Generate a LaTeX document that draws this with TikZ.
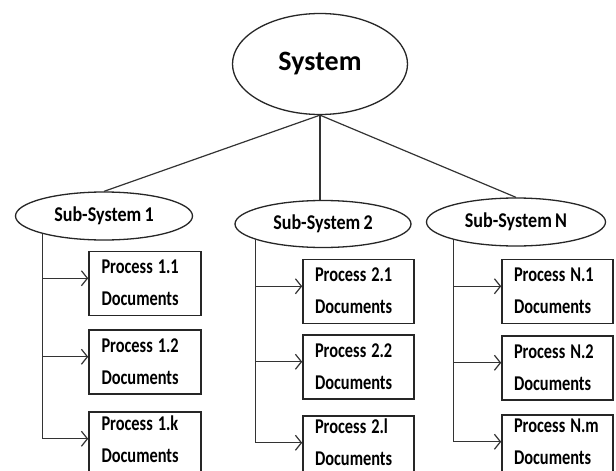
\documentclass[tikz,border=0pt]{standalone}
\usepackage{fontspec}
\setmainfont{Carlito}
\newfontfamily\sysfont{Carlito}
\newfontfamily\subfont{Carlito}[FakeStretch=0.86, WordSpace=0.8]
\newfontfamily\boxfont{Carlito}[FakeStretch=0.78, WordSpace=0.45]
\usetikzlibrary{shapes.geometric,arrows.meta,calc}
\newcommand\proctext[2][0pt]{\raisebox{#1}[\height][\depth]{\begin{tabular}{@{}l@{}}Process\kern-2pt\ #2\\Documents\end{tabular}}}
\tikzset{
  sysnode/.style={ellipse, draw=black!85, line width=1.3pt, inner sep=0pt,
    minimum width=175pt, minimum height=101pt,
    font=\sysfont\bfseries\fontsize{28}{30}\selectfont},
  subnode/.style={ellipse, draw=black!85, line width=1.3pt, inner sep=0pt,
    minimum width=177pt, minimum height=48pt,
    font=\subfont\bfseries\fontsize{21}{24}\selectfont},
  procbox/.style={rectangle, draw=black!85, line width=1.6pt, inner xsep=12pt, inner ysep=0pt,
    text width=87pt, minimum height=59pt, align=left,
    font=\boxfont\bfseries\fontsize{21}{32}\selectfont},
  link/.style={draw=black!80, line width=1.2pt},
  feed/.style={draw=black!80, line width=1.4pt, -{Straight Barb[length=6pt,width=15pt,line width=1.2pt]}}
}
\begin{document}
\begin{tikzpicture}[x=1pt,y=-1pt]
\useasboundingbox (0,0) rectangle (616,471);
\clip (0,0) rectangle (616,471);
\fill[white] (0,0) rectangle (616,471);

\node[sysnode] (sys) at (320,64) {System};
\node[subnode] (ss1) at (104,216) {Sub-System 1};
\node[subnode, minimum width=176pt, minimum height=47pt] (ss2) at (323,224) {Sub-System 2};
\node[subnode, minimum width=179pt] (ssn) at (516,222) {Sub-System N};

\draw[link] (sys.south) -- (ss1.north);
\draw[link] (sys.south) -- (sys.south |- ss2.north);
\draw[link] (sys.south) -- (ssn.north);

% column 1
\node[procbox, minimum width=112pt] (p11) at (145,283.5) {\proctext{1.1}};
\node[procbox, minimum width=112pt, minimum height=60pt] (p12) at (145,362) {\proctext{1.2}};
\node[procbox, minimum width=112pt, minimum height=60pt] (p1k) at (145,444) {\proctext[4pt]{1.k}};
% column 2
\node[procbox, minimum width=111pt] (p21) at (358.5,291.5) {\proctext{2.1}};
\node[procbox, minimum width=111pt, minimum height=60pt] (p22) at (358.5,367) {\proctext{2.2}};
\node[procbox, minimum width=111pt, minimum height=60pt] (p2l) at (358.5,448) {\proctext[5pt]{2.l}};
% column N
\node[procbox, minimum width=111pt] (pn1) at (557.5,291.5) {\proctext{N.1}};
\node[procbox, minimum width=111pt, minimum height=60pt] (pn2) at (557.5,368) {\proctext{N.2}};
\node[procbox, minimum width=111pt, minimum height=60pt] (pnm) at (557.5,447) {\proctext[5pt]{N.m}};

% trunk starts on the ellipses
\coordinate (t1) at (ss1.196);
\coordinate (t2) at (ss2.193);
\coordinate (tn) at (ssn.196);

\foreach \b in {p11,p12,p1k,p21,p22,p2l,pn1,pn2,pnm}{
  \coordinate (e\b) at ($(\b.north west)!0.42!(\b.south west)$);
}

\draw[link] (t1) -- (t1 |- ep1k);
\draw[link] (t2) -- (t2 |- ep2l);
\draw[link] (tn) -- (tn |- epnm);

\foreach \b in {p11,p12,p1k}{ \draw[feed] (t1 |- e\b) -- (e\b); }
\foreach \b in {p21,p22,p2l}{ \draw[feed] (t2 |- e\b) -- (e\b); }
\foreach \b in {pn1,pn2,pnm}{ \draw[feed] (tn |- e\b) -- (e\b); }
\end{tikzpicture}
\end{document}
